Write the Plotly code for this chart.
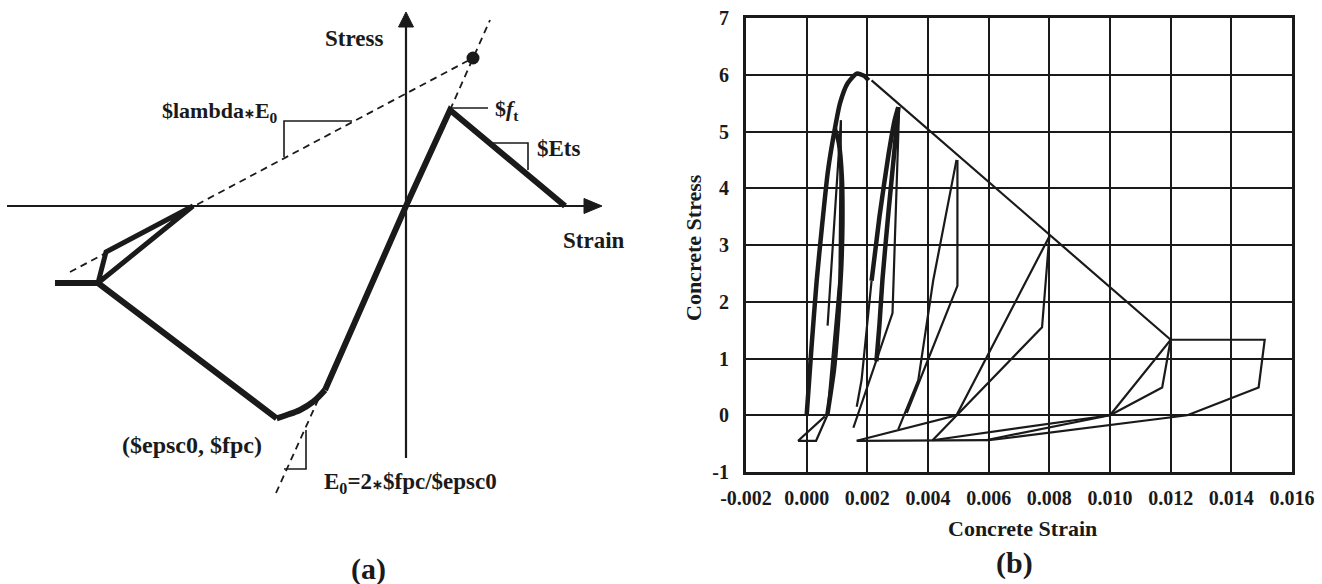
import plotly.graph_objects as go

W, H = 1322, 584
FONT = "Liberation Serif"
INK = "#1a1a1a"

# ================= panel (b): cyclic concrete response =================
# thick segments (strain, stress)
env_strain = [0.0, 0.00016, 0.00033, 0.0005, 0.0007, 0.00093, 0.0011, 0.00135, 0.00165, 0.0019, 0.00204]
env_stress = [0.0, 1.2, 2.37, 3.3, 4.3, 5.05, 5.5, 5.85, 6.02, 5.98, 5.9]

unl1_strain = [0.00093, 0.00106, 0.00116, 0.00118, 0.00114, 0.00104, 0.0009, 0.00068]
unl1_stress = [5.05, 4.8, 4.2, 3.4, 2.6, 1.7, 0.8, 0.0]

rel2_strain = [0.00214, 0.0024, 0.0027, 0.0029, 0.00302]
rel2_stress = [2.37, 3.5, 4.6, 5.2, 5.43]

unl2_strain = [0.00302, 0.0029, 0.0027, 0.0025, 0.0024, 0.0023]
unl2_stress = [5.43, 4.7, 3.6, 2.4, 1.6, 0.95]

# thin segments
soft_strain = [0.00214, 0.012]
soft_stress = [5.9, 1.33]

tri1_strain = [0.00068, 0.00031, -0.00028, 0.0006]
tri1_stress = [0.0, -0.45, -0.45, -0.02]

thin1_strain = [0.00069, 0.00113, 0.00108, 0.00068]
thin1_stress = [1.58, 5.2, 2.4, 0.0]

thin2a_strain = [0.00165, 0.00181, 0.00214]
thin2a_stress = [0.15, 0.62, 2.37]

thin2b_strain = [0.00305, 0.00283, 0.00154]
thin2b_stress = [5.43, 1.8, -0.22]

r3_strain = [0.00302, 0.00368, 0.00417, 0.00494]
r3_stress = [-0.25, 0.62, 2.37, 4.5]

d3_strain = [0.00497, 0.00497, 0.0033]
d3_stress = [4.5, 2.28, 0.04]

r4_strain = [0.00165, 0.00494, 0.0080]
r4_stress = [-0.45, 0.0, 3.15]

d4_strain = [0.0080, 0.00776, 0.00415]
d4_stress = [3.15, 1.55, -0.44]

t1_strain = [0.00165, 0.006]
t1_stress = [-0.45, -0.44]
t2_strain = [0.00415, 0.010]
t2_stress = [-0.44, 0.0]
t3_strain = [0.0059, 0.010]
t3_stress = [-0.44, 0.0]
t4_strain = [0.006, 0.01255]
t4_stress = [-0.44, 0.0]

c5_strain = [0.010, 0.012, 0.0151, 0.0149, 0.01255]
c5_stress = [0.0, 1.33, 1.33, 0.49, 0.0]
c5b_strain = [0.010, 0.01172, 0.012]
c5b_stress = [0.0, 0.49, 1.33]

x_ticks = [-0.002, 0.0, 0.002, 0.004, 0.006, 0.008, 0.010, 0.012, 0.014, 0.016]
x_tick_text = ["-0.002", "0.000", "0.002", "0.004", "0.006", "0.008", "0.010", "0.012", "0.014", "0.016"]
y_ticks = [-1, 0, 1, 2, 3, 4, 5, 6, 7]
y_tick_text = ["-1", "0", "1", "2", "3", "4", "5", "6", "7"]

# ================= panel (a): schematic (arbitrary units) =================
main_x = [-35.1, -30.8, -12.93]
main_y = [-7.7, -7.7, -21.23]
peak_x = [-12.93, -11.93, -10.6, -9.27, -8.1]
peak_y = [-21.23, -20.9, -20.4, -19.57, -18.4]
rise_x = [-8.1, 0.0, 4.4, 15.9]
rise_y = [-18.4, 0.0, 9.6, 0.0]
loop_x = [-30.8, -30.0, -21.3, -30.8]
loop_y = [-7.7, -4.6, 0.0, -7.7]

lam_x = [-33.6, 6.7]
lam_y = [-6.6, 14.8]
e0_low_x = [-13.0, -8.3]
e0_low_y = [-28.7, -18.3]
e0_up_x = [4.4, 8.4]
e0_up_y = [9.6, 18.6]
dot_x = [6.7]
dot_y = [14.8]

haxis_x = [-39.9, 18.0]
haxis_y = [0.0, 0.0]
vaxis_x = [0.0, 0.0]
vaxis_y = [-25.2, 18.0]
harrow_x = [19.6, 17.8, 17.8, 19.6]
harrow_y = [0.0, 0.75, -0.75, 0.0]
varrow_x = [0.0, -0.75, 0.75, 0.0]
varrow_y = [19.4, 17.9, 17.9, 19.4]

tri_lam_x = [-12.2, -12.2, -5.4]
tri_lam_y = [4.9, 8.5, 8.5]
tri_ets_x = [8.7, 12.2, 12.2]
tri_ets_y = [6.3, 6.3, 3.6]
ft_lead_x = [4.4, 8.2]
ft_lead_y = [9.8, 9.8]
tri_e0_x = [-10.0, -10.0, -12.2]
tri_e0_y = [-22.4, -26.3, -26.3]


def join(*segs):
    xs, ys = [], []
    for sx, sy in segs:
        xs += list(sx) + [None]
        ys += list(sy) + [None]
    return xs, ys


fig = go.Figure()

# ---- panel (b) traces ----
for sx, sy in [(env_strain, env_stress), (unl1_strain, unl1_stress),
               (rel2_strain, rel2_stress), (unl2_strain, unl2_stress)]:
    fig.add_trace(go.Scatter(x=sx, y=sy, mode="lines", xaxis="x", yaxis="y",
                             line=dict(color=INK, width=4.5, shape="spline", smoothing=0.6),
                             hoverinfo="skip", showlegend=False))

tx, ty = join((soft_strain, soft_stress), (tri1_strain, tri1_stress), (thin1_strain, thin1_stress),
              (thin2a_strain, thin2a_stress), (thin2b_strain, thin2b_stress),
              (r3_strain, r3_stress), (d3_strain, d3_stress), (r4_strain, r4_stress),
              (d4_strain, d4_stress), (t1_strain, t1_stress), (t2_strain, t2_stress),
              (t3_strain, t3_stress), (t4_strain, t4_stress), (c5_strain, c5_stress),
              (c5b_strain, c5b_stress))
fig.add_trace(go.Scatter(x=tx, y=ty, mode="lines", xaxis="x", yaxis="y",
                         line=dict(color=INK, width=2.2), connectgaps=False,
                         hoverinfo="skip", showlegend=False))

# ---- panel (a) traces ----
def a_line(x, y, width, dash="solid", shape="linear"):
    fig.add_trace(go.Scatter(x=x, y=y, mode="lines", xaxis="x2", yaxis="y2",
                             line=dict(color=INK, width=width, dash=dash, shape=shape),
                             hoverinfo="skip", showlegend=False))

a_line(haxis_x, haxis_y, 2.2)
a_line(vaxis_x, vaxis_y, 2.2)
for ax_, ay_ in [(harrow_x, harrow_y), (varrow_x, varrow_y)]:
    fig.add_trace(go.Scatter(x=ax_, y=ay_, mode="lines", fill="toself", fillcolor=INK,
                             xaxis="x2", yaxis="y2", line=dict(color=INK, width=1),
                             hoverinfo="skip", showlegend=False))
a_line(lam_x, lam_y, 1.8, dash="7px,5px")
a_line(e0_low_x, e0_low_y, 1.8, dash="7px,5px")
a_line(e0_up_x, e0_up_y, 1.8, dash="7px,5px")
a_line(main_x, main_y, 6)
a_line(peak_x, peak_y, 6, shape="spline")
a_line(rise_x, rise_y, 6)
a_line(loop_x, loop_y, 5)
a_line(tri_lam_x, tri_lam_y, 1.6)
a_line(tri_ets_x, tri_ets_y, 1.6)
a_line(ft_lead_x, ft_lead_y, 1.6)
a_line(tri_e0_x, tri_e0_y, 1.6)
fig.add_trace(go.Scatter(x=dot_x, y=dot_y, mode="markers", xaxis="x2", yaxis="y2",
                         marker=dict(color=INK, size=13), hoverinfo="skip", showlegend=False))

# ---- layout ----
tickfont = dict(family=FONT, size=20, color=INK)
fig.update_layout(
    width=W, height=H,
    margin=dict(l=0, r=0, t=0, b=0),
    paper_bgcolor="white", plot_bgcolor="rgba(0,0,0,0)",
    font=dict(family=FONT, color=INK),
    xaxis=dict(domain=[746 / W, 1292 / W], range=[-0.002, 0.016],
               tickvals=x_ticks, ticktext=["<b>%s</b>" % t for t in x_tick_text],
               showgrid=True, gridcolor=INK, gridwidth=2, zeroline=False,
               showline=True, mirror=True, linecolor=INK, linewidth=3,
               ticks="", tickfont=tickfont, ticklabelstandoff=6, automargin=False),
    yaxis=dict(domain=[1 - 472 / H, 1 - 18 / H], range=[-1, 7],
               tickvals=y_ticks, ticktext=["<b>%s</b>" % t for t in y_tick_text],
               showgrid=True, gridcolor=INK, gridwidth=2, zeroline=False,
               showline=True, mirror=True, linecolor=INK, linewidth=3,
               ticks="", tickfont=tickfont, ticklabelstandoff=10, automargin=False),
    xaxis2=dict(domain=[0, 661 / W], range=[-40.6, 25.5], visible=False, fixedrange=True),
    yaxis2=dict(domain=[0, 1], range=[-37.8, 20.6], visible=False, fixedrange=True),
)

def ann(text, x, y, size, xanchor="center", ref="a", textangle=0):
    if ref == "a":
        xr, yr = "x2", "y2"
    else:
        xr, yr = "paper", "paper"
    fig.add_annotation(text=text, x=x, y=y, xref=xr, yref=yr, showarrow=False,
                       xanchor=xanchor, yanchor="middle", textangle=textangle,
                       font=dict(family=FONT, size=size, color=INK))

small_star = "<span style='font-size:13px'>∗</span>"
ann("<b>Stress</b>", -5.2, 16.8, 23)
ann("<b>Strain</b>", 18.8, -3.4, 23)
ann("<b>$lambda" + small_star + "E<sub>0</sub></b>", -12.6, 9.4, 22, xanchor="right")
ann("<b>$<i>f</i><sub>t</sub></b>", 8.7, 9.6, 22, xanchor="left")
ann("<b>$Ets</b>", 12.9, 5.8, 23, xanchor="left")
ann("<b>($epsc0, $fpc)</b>", -21.4, -23.9, 24)
ann("<b>E<sub>0</sub>=2" + small_star + "$fpc/$epsc0</b>", -8.4, -27.7, 23, xanchor="left")
ann("<b>(a)</b>", -3.8, -36.3, 30)

ann("<b>Concrete Strain</b>", 1022 / W, 1 - 528 / H, 22, ref="p")
ann("<b>Concrete Stress</b>", 694 / W, 1 - 248 / H, 22, ref="p", textangle=-90)
ann("<b>(b)</b>", 1014 / W, 1 - 563 / H, 30, ref="p")

fig.write_html("out.html")
